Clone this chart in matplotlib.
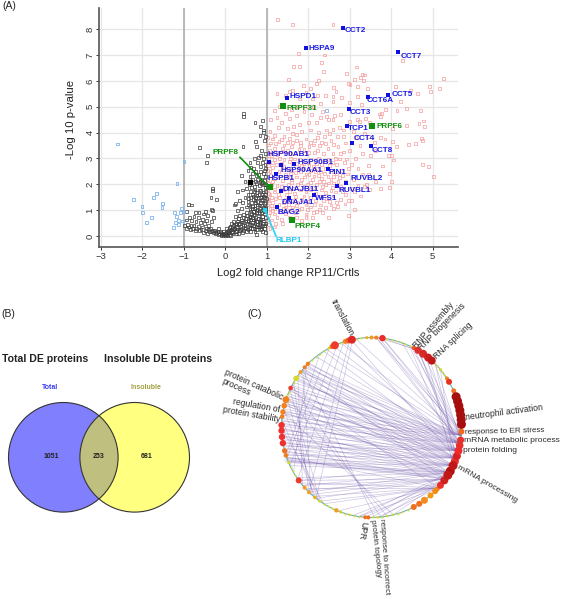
import numpy as np
import matplotlib
matplotlib.use("Agg")
import matplotlib.pyplot as plt
from matplotlib.patches import Circle

plt.rcParams['font.family'] = ['Liberation Sans', 'DejaVu Sans']

W, H = 561, 598

# ---------- panel A data ----------
blue_pts = [(-2.6,3.56),(-0.99,2.87),(-1.16,2.04),(-2.2,1.4),(-2.0,1.13),(-1.98,0.9),(-1.89,0.51),(-1.77,0.71),
            (-1.72,1.48),(-1.66,1.65),(-1.51,1.26),(-1.52,1.1),(-1.25,0.32),(-1.13,0.43),(-1.2,0.53),(-1.12,0.59),
            (-1.02,0.58),(-1.21,0.9),(-1.17,0.77),(-1.08,0.92),(-1.05,1.07),(-1.0,0.95),(2.45,4.87)]

black_pts = [(-0.62,3.43),(-0.43,3.13),(-0.45,2.83),(-0.3,1.85),(-0.3,1.75),(-0.34,1.5),(-0.2,1.42),(0.45,4.75),(0.45,4.62),
 (0.72,4.4),(0.9,4.46),(0.85,4.25),(0.92,4.1),(0.93,4.0),(0.84,3.9),(0.43,3.47),(0.73,3.65),(0.76,3.45),(0.95,3.68),(0.88,3.3),
 (0.98,3.2),(0.92,3.0),(0.7,3.0),(0.6,2.85),(0.79,2.85),(0.62,2.65),(0.55,2.52),(0.85,2.7),(0.94,2.55),(0.73,2.5),(0.4,2.35),
 (0.48,2.12),(0.6,2.3),(0.67,2.18),(0.78,2.2),(0.88,2.2),(0.97,2.3),(0.58,1.98),(0.7,1.9),(0.82,1.95),(0.93,1.98),(0.52,1.85),
 (0.42,1.78),(0.3,1.72),(0.62,1.72),(0.75,1.68),(0.86,1.75),(0.98,1.72),(0.55,1.6),(0.68,1.55),(0.8,1.5),(0.92,1.55),(0.99,1.45),
 (0.48,1.5),(0.35,1.38),(0.25,1.25),(0.23,1.2),(0.42,1.3),(0.55,1.35),(0.63,1.28),(0.72,1.38),(0.85,1.3),(0.95,1.25),(0.78,1.2),
 (0.66,1.15),(0.52,1.12),(0.4,1.05),(0.3,1.0),(0.6,1.02),(0.7,1.05),(0.82,1.08),(0.92,1.02),(0.98,0.95),(0.87,0.92),(0.76,0.9),
 (0.64,0.88),(0.52,0.9),(0.45,0.82),(0.35,0.8),(0.25,0.75),(0.58,0.76),(0.68,0.78),(0.8,0.78),(0.9,0.75),(0.97,0.72),(0.86,0.65),
 (0.74,0.66),(0.62,0.64),(0.5,0.68),(0.4,0.62),(0.3,0.58),(0.2,0.56),(0.15,0.48),(0.25,0.46),(0.35,0.5),(0.45,0.52),(0.55,0.55),
 (0.65,0.52),(0.75,0.56),(0.84,0.52),(0.93,0.58),(0.98,0.5),(0.89,0.42),(0.78,0.44),(0.68,0.4),(0.58,0.43),(0.48,0.42),(0.38,0.38),
 (0.28,0.36),(0.18,0.34),(0.1,0.32),(0.12,0.22),(0.2,0.25),(0.3,0.27),(0.4,0.3),(0.5,0.33),(0.6,0.33),(0.7,0.3),(0.8,0.35),(0.95,0.3),
 (0.85,0.25),(0.55,0.24),(0.45,0.22),(0.35,0.2),(0.25,0.17),(0.16,0.13),(0.08,0.12),(0.03,0.06),(0.06,0.03),(0.1,0.07),(0.0,0.02),
 (-0.02,0.04),(-0.05,0.01),(-0.08,0.05),(-0.1,0.03),(-0.13,0.08),(-0.16,0.06),(-0.2,0.12),(-0.24,0.1),(-0.28,0.14),(-0.33,0.18),
 (-0.38,0.16),(-0.42,0.1),(-0.47,0.2),(-0.52,0.14),(-0.58,0.24),(-0.62,0.2),(-0.68,0.28),(-0.72,0.22),(-0.78,0.3),(-0.83,0.26),
 (-0.88,0.35),(-0.93,0.3),(-0.97,0.4),(-0.9,0.45),(-0.82,0.4),(-0.75,0.42),(-0.65,0.38),(-0.55,0.35),(-0.45,0.3),(-0.35,0.28),
 (-0.25,0.22),(-0.17,0.18),(-0.1,0.14),(-0.05,0.1),(0.0,0.09),(0.04,0.14),(-0.03,0.17),(-0.4,0.42),(-0.5,0.48),(-0.6,0.52),
 (-0.7,0.55),(-0.8,0.6),(-0.92,0.62),(-0.85,0.72),(-0.75,0.75),(-0.65,0.7),(-0.55,0.65),(-0.45,0.6),(-0.33,0.55),(-0.28,0.7),
 (-0.42,0.8),(-0.52,0.85),(-0.63,0.92),(-0.72,0.9),(-0.48,0.95),(-0.3,0.98),(-0.33,1.02),(-0.88,1.22),(-0.8,1.2),(-0.92,0.95),
 (0.14,0.03),(0.19,0.08),(0.28,0.08),(0.22,0.3),(0.33,0.1),(0.42,0.13),(0.52,0.16),(0.62,0.18),(0.72,0.16),(0.08,0.2),(0.15,0.27),
 (0.98,0.15),(0.9,0.18),(0.75,0.06),(0.04,0.3),(-0.15,0.3),(0.97,1.12),(0.88,1.18),(0.74,1.3),(0.57,1.46),(0.9,1.42),(0.83,1.62),
 (0.96,1.88),(0.72,1.78),(0.91,2.08),(0.81,2.38),(0.96,2.75),(0.66,2.42),(0.86,3.1),(0.98,3.85),(0.78,1.04),(0.69,0.95),(0.56,1.2),
 (0.94,0.85),(0.83,0.86),(0.71,0.84),(0.61,0.94),(0.91,0.66),(0.8,0.68),(0.69,0.62),(0.57,0.6),(0.96,0.42),(0.86,0.36),(0.75,0.38),
 (0.63,0.46),(0.53,0.47),(0.43,0.45),(0.32,0.43),(0.92,0.48),(0.82,0.46),(0.72,0.48),(0.98,1.05),(0.88,1.0),(0.75,0.98),(0.65,1.08),
 (0.93,1.12),(0.83,1.2),(0.72,1.18),(0.6,1.16),(0.97,1.3),(0.88,1.36),(0.78,1.32),(0.68,1.4),(0.94,1.48),(0.85,1.5),(0.74,1.48),
 (0.62,1.5),(0.97,1.6),(0.88,1.62),(0.77,1.58),(0.65,1.62),(0.93,1.7),(0.82,1.78),(0.7,1.72),(0.98,1.98),(0.87,2.02),(0.76,2.02),
 (0.64,1.88),(0.95,2.15),(0.84,2.12),(0.73,2.12),(0.93,2.42),(0.85,2.5),(0.75,2.35),(0.68,2.6),(0.97,2.62),(0.9,2.85),(0.8,3.05),
 (0.66,0.72),(0.54,0.78),(0.44,0.72),(0.33,0.68),(0.82,0.58),(0.72,0.6),(0.6,0.7),(0.5,0.58),(0.4,0.54),(0.28,0.48),(0.2,0.42),
 (0.12,0.38),(0.66,0.28),(0.76,0.24),(0.88,0.28),(0.58,0.3),(0.48,0.28),(0.38,0.25),(0.27,0.22),(0.18,0.18),(0.06,0.18),(-0.08,0.1),
 (-0.12,0.16),(-0.22,0.16),(-0.3,0.22),(-0.4,0.24)]

red_pts = [(1.27,8.38),(1.62,8.19),(1.77,7.07),(1.65,6.56),(1.8,6.55),(1.53,6.07),(2.25,6.03),(2.21,5.9),(2.39,7.0),(2.33,6.7),
 (2.37,6.35),(1.88,5.82),(2.6,8.19),(3.17,6.54),(2.92,6.29),(3.31,6.24),(3.35,6.23),(3.27,6.12),(3.33,6.0),(2.97,5.9),(3.01,5.87),
 (3.11,6.05),(5.26,6.1),(4.92,5.78),(4.94,5.6),(5.17,5.71),(4.1,5.79),(4.46,5.62),(4.63,5.5),(4.27,6.78),(3.43,5.72),(3.19,5.78),
 (2.61,5.74),(2.67,5.6),(3.19,5.39),(2.8,5.37),(2.42,5.44),(2.6,5.41),(2.6,5.2),(3.0,5.16),(2.3,5.13),(3.28,5.09),(4.22,5.2),
 (3.86,4.9),(4.14,4.87),(4.36,4.94),(4.7,4.86),(4.78,4.45),(4.67,4.36),(4.8,4.24),(4.37,4.29),(4.04,4.17),(3.72,4.72),(3.77,4.74),
 (3.74,4.61),(3.39,4.55),(3.19,4.51),(3.24,4.43),(3.0,4.43),(2.78,4.7),(2.63,4.65),(2.44,4.61),(2.3,4.58),(2.5,4.5),(2.6,4.52),
 (3.47,4.4),(2.44,4.1),(2.6,4.13),(4.74,3.78),(4.75,3.7),(4.42,3.55),(4.58,3.59),(4.12,3.45),(4.04,3.67),(3.74,3.8),(3.85,3.75),
 (3.93,3.13),(4.06,2.94),(4.0,3.1),(3.8,2.71),(3.46,2.73),(3.96,2.43),(4.0,2.1),(3.96,1.87),(3.75,1.84),(4.75,2.76),(4.9,2.68),
 (5.02,2.29),(3.27,1.55),(3.11,1.03),(2.97,0.8),(2.49,0.72),(2.35,0.9),(3.05,1.37),(2.97,1.37),(2.89,1.24),(2.77,1.4),(3.47,1.8),
 (3.63,2.1),(3.35,1.9),(3.4,2.0),(3.45,2.4),(3.3,2.4),(3.2,2.6),(2.95,2.4),(3.05,2.75),(3.15,3.0),(3.3,3.2),(3.5,3.1),(3.62,3.3),
 (3.25,3.5),(3.0,3.3),(2.9,3.6),(3.15,3.8),(3.45,3.85),(3.6,3.62),(3.35,3.95),(3.1,4.05),(2.85,4.1),(1.25,5.5),(1.55,5.6),(1.62,5.62),
 (1.45,5.45),(1.3,5.0),(1.2,4.85),(1.8,5.3),(1.95,5.55),(2.05,5.7),(2.1,5.3),(1.98,5.0),(2.22,5.45),(2.12,5.0),(1.75,5.0),(1.6,4.9),
 (1.45,4.75),(1.25,4.6),(1.1,4.5),(1.35,4.4),(1.55,4.55),(1.72,4.65),(1.9,4.8),(2.08,4.7),(2.2,4.4),(2.35,4.8),(2.0,4.4),(1.8,4.3),
 (1.65,4.25),(1.5,4.15),(1.28,4.2),(1.08,4.05),(1.2,3.9),(1.42,3.85),(1.62,3.95),(1.85,4.05),(2.05,4.1),(2.25,4.0),(2.4,3.85),(2.7,3.85),
 (2.55,3.7),(2.15,3.7),(1.95,3.75),(1.72,3.7),(1.5,3.62),(1.3,3.65),(1.1,3.6),(1.03,3.8),(1.18,3.4),(1.38,3.4),(1.6,3.45),(1.82,3.5),
 (2.02,3.45),(2.28,3.5),(2.48,3.4),(2.72,3.45),(2.85,3.25),(2.6,3.2),(2.38,3.2),(2.15,3.22),(1.92,3.2),(1.7,3.2),(1.48,3.18),(1.25,3.15),
 (1.06,3.3),(1.05,3.0),(1.2,2.95),(1.42,2.95),(1.58,3.0),(1.8,2.95),(2.05,2.95),(2.25,3.0),(2.5,2.95),(2.75,2.98),(2.88,2.85),(2.68,2.75),
 (2.32,2.75),(2.12,2.7),(1.9,2.62),(1.52,2.6),(1.3,2.5),(1.15,2.65),(1.03,2.55),(1.1,2.35),(1.45,2.4),(1.7,2.45),(1.95,2.4),(2.18,2.48),
 (2.4,2.42),(2.6,2.5),(2.8,2.55),(2.75,2.25),(2.55,2.2),(2.32,2.22),(2.1,2.2),(1.85,2.2),(1.6,2.2),(1.38,2.15),(1.15,2.1),(1.03,2.2),
 (1.08,1.9),(1.25,1.95),(1.52,1.98),(1.75,1.98),(1.98,2.0),(2.2,2.0),(2.42,1.98),(2.62,2.05),(2.82,1.72),(2.55,1.75),(2.32,1.78),(2.05,1.8),
 (1.82,1.78),(1.55,1.72),(1.2,1.7),(1.04,1.65),(1.12,1.5),(1.32,1.5),(1.7,1.52),(1.9,1.55),(2.3,1.55),(2.45,1.45),(2.6,1.55),(2.18,1.38),
 (1.98,1.32),(1.75,1.3),(1.4,1.28),(1.15,1.3),(1.03,1.2),(1.08,1.05),(1.4,1.05),(1.62,1.12),(1.85,1.08),(2.05,1.12),(2.3,1.2),(2.55,1.2),
 (2.7,1.15),(2.2,0.95),(1.95,0.85),(1.7,0.9),(1.45,0.85),(1.2,0.85),(1.05,0.8),(1.12,0.62),(1.35,0.65),(1.85,0.6),(2.1,0.7),(1.04,0.45),
 (1.22,0.48),(1.08,0.3),(1.02,1.42),(1.02,2.85),(1.15,2.85),(1.55,2.88),(1.72,2.82),(2.0,2.85),(2.22,2.62),(2.42,2.62),(2.58,2.85),(2.9,2.1),
 (3.1,2.2),(3.2,1.95),(3.05,1.85),(2.9,1.6),(3.12,1.72),(1.35,2.82),(1.58,2.42),(1.78,2.65),(1.12,3.1),(1.32,3.0),(1.5,3.32),(1.9,3.35),
 (2.12,3.52),(2.32,3.62),(2.52,3.95),(1.72,3.92),(1.55,3.78),(1.35,3.72),(1.15,3.75),(1.25,3.25),(1.68,2.98),(1.88,2.82),(2.06,2.55),(2.25,2.35),
 (1.05,3.52),(1.22,3.58),(1.42,3.52),(1.62,3.62),(1.82,3.62),(2.05,3.62),(2.22,3.82),(1.08,3.18),(1.35,3.25),(1.58,3.2),(1.78,3.35),(2.0,3.22),
 (2.22,3.3),(2.42,3.58),(2.62,3.55),(1.05,2.72),(1.24,2.78),(1.42,2.7),(1.62,2.72),(1.85,2.72),(2.02,2.72),(2.2,2.82),(2.4,2.88),(2.52,2.72),
 (1.08,2.5),(1.22,2.42),(1.4,2.58),(1.6,2.55),(1.82,2.5),(2.02,2.38),(2.3,2.48),(2.48,2.3),(2.68,2.4),(1.05,2.02),(1.2,2.22),(1.32,2.32),
 (1.5,2.3),(1.72,2.28),(1.92,2.28),(2.14,2.32),(2.38,2.12),(2.62,2.3),(2.82,2.35),(1.12,1.98),(1.36,1.9),(1.6,2.08),(1.82,2.05),(2.05,2.08),
 (2.28,2.1),(2.5,2.05),(2.72,2.1),(1.02,1.8),(1.18,1.82),(1.42,1.78),(1.65,1.85),(1.9,1.9),(2.12,1.88),(2.35,1.92),(2.58,1.88),(2.78,1.9),
 (1.08,1.62),(1.28,1.62),(1.48,1.6),(1.68,1.65),(1.95,1.7),(2.18,1.65),(2.42,1.68),(2.65,1.7),(1.05,1.38),(1.22,1.45),(1.45,1.42),(1.6,1.38),
 (1.85,1.42),(2.05,1.48),(2.38,1.38),(2.52,1.35),(2.68,1.3),(1.12,1.18),(1.3,1.22),(1.52,1.22),(1.72,1.18),(1.95,1.2),(2.15,1.22),(2.42,1.1),
 (2.62,1.05),(1.18,1.05),(1.32,0.95),(1.55,0.98),(1.78,1.02),(1.98,1.02),(2.12,0.9),(2.28,1.02),(1.08,0.92),(1.25,0.72),(1.55,0.72),(1.72,0.72),
 (1.95,0.72),(1.15,0.98),(1.45,1.12),(1.02,0.65),(1.38,0.5),(1.18,0.35),(2.85,3.85),(2.75,4.2),(2.92,2.98),(2.98,2.62),(2.78,3.2),(2.65,3.0)]

gene_names = ['HSPA9','CCT2','CCT7','HSPD1','CCT5','CCT6A','CCT3','TCP1','CCT4','CCT8','PIN1','RUVBL2','RUVBL1','HSP90AB1',
              'HSP90B1','HSP90AA1','HSPB1','DNAJB11','WFS1','DNAJA1','BAG2']
gene_x = [1.95,2.83,4.16,1.49,3.93,3.45,2.99,2.93,3.06,3.51,2.47,2.92,2.69,1.06,1.66,1.34,1.23,1.35,2.14,1.54,1.24]
gene_y = [7.28,8.05,7.12,5.35,5.44,5.39,4.92,4.27,3.59,3.47,2.58,2.04,1.92,2.86,2.77,2.73,2.40,1.74,1.60,1.46,1.12]
green_names = ['PRPF31','PRPF6','PRPF8','PRPF4']
green_x = [1.39,3.54,1.07,1.61]
green_y = [5.04,4.26,1.88,0.61]
cyan_name = 'RLBP1'
cyan_x = [0.96]
cyan_y = [1.0]
filled_black_x = [0.6]
filled_black_y = [2.1]
x_ticks = [-3,-2,-1,0,1,2,3,4,5]
y_ticks = [0,1,2,3,4,5,6,7,8]

# ---------- panel B data ----------
venn_counts = [1051, 253, 681]
venn_titles = ['Total DE proteins', 'Insoluble DE proteins']
venn_sets = ['Total', 'Insoluble']

# ---------- panel C data ----------
node_angle = [20,17,14,11,8,5,2,-2.6,-8,-15,-22,-29,-36,-40,-45,-49,-54,-58,-62,48,51,55,59,62,40,30.5,33,24,
              83,87,90,93,102.6,105,107,114,116,118,135,138,142,147,154,162,166,170,173,178.5,182,186,190,195,198,203,
              216,222,226,231,235,247,250,256,266,268,274,280,284, -11.5,-18.5,-25,-32,-43]
node_size = [4.5,4.5,4.5,4.5,4.5,4.5,4.5,3,3.5,4,4,4.5,4,3.5,3,3,3.5,3,3,4,4,4,3.5,2,1.5,3,2,2.5,
             3.2,2,2,1.5,4,3,2.5,4,2.5,1.5,2.2,2,2,2.8,2.3,3.4,2.8,2.6,2.3,3.2,3.2,3.2,3.2,2.6,2.3,1.5,
             3,2,2,1.8,1.5,2.2,1.5,1.2,2,2,1.3,1.2,1.2, 3.8,4,4.5,4.5,2.5]
node_color = ['#a50f0f','#a50f0f','#a80c0c','#a80c0c','#a50f0f','#a50f0f','#a80c0c','#f5691e','#e8302a','#ee2a2a','#e8302a','#b01010','#d02020','#e8302a','#f58a10','#f59a10','#f58a1e','#f0701e','#f0701e',
              '#c01818','#cc1e1e','#d82828','#e03030','#f0501e','#d8d820','#e83020','#f08020','#f0701e',
              '#ee2a2a','#f58020','#f59a20','#e8b020','#e02525','#f0602a','#f58a20','#ee3a2a','#f07020','#d8d820','#f58020','#f08020','#f0a020','#d8d830','#ee3a2a','#f5801e','#f5801e','#f5801e','#f08020','#ee3030','#ee3030','#ee3030','#ee3030','#f07020','#f08020','#d8d820',
              '#ee3a2a','#f59a20','#f5a020','#f0b020','#d8d820','#f0a020','#d8d020','#d8d820','#f0701e','#f0701e','#d8d820','#d8d820','#d8d820','#e8302a','#d82020','#c01818','#c01818','#f58020']
rim_dots = [36,38,43,45,65,68,71,74,77,80,97,99,110,122,125,128,131,145,150,157,159,206,209,212,238,241,244,253,259,262,271,277,287,290,294,298,303,307]

edge_src = {
 -5:[135,138,142,150,155,160,165,170,176,100,110,120,83,60,55],
 -10:[137,140,145,152,158,163,168,172,178,182,115,128,85,70,87],
 -15:[134,141,148,153,161,166,171,174,179,184,188,192,108,122,58,50],
 -20:[136,143,147,156,162,169,177,181,186,190,194,198,103,65,45],
 -25:[139,146,159,164,175,183,187,191,196,200,203,216,52],
 -30:[144,154,170,180,185,189,193,197,202,205,214,220,226,262,270],
 -35:[140,165,195,201,216,220,224,228,232,258,266,276,284],
 -42:[155,199,218,222,230,235,238,248,262,274],
}
edge_other = [(83,-2),(87,-3),(62,-12),(64,-6),(58,-18),(45,-8),(40,-24),(180,238),(175,232),(168,234),(160,230),(150,226),
              (145,220),(155,235),(140,228),(136,210),(108,215),(112,205),(118,200),(125,198),(276,152),(280,160),(272,140),(284,170),(104,226),(102,232),(85,88),(78,84),(86,60),(82,58)]

node_center = (371.5, 427.5)
node_radius = 90.0

# ---------- figure ----------
fig = plt.figure(figsize=(W/100, H/100), dpi=100)
L, R, T, B = 99.3, 458.0, 8.0, 247.3
ax = fig.add_axes([L/W, 1-B/H, (R-L)/W, (B-T)/H])
ax.set_xlim(-3.03, 5.61)
ax.set_ylim(-0.437, 8.82)
ax.set_xticks(x_ticks)
ax.set_yticks(y_ticks)
ax.grid(True, color='#e6e6e6', lw=0.9)
ax.set_axisbelow(True)
for s in ('top','right'):
    ax.spines[s].set_visible(False)
for s in ('left','bottom'):
    ax.spines[s].set_color('#555555')
    ax.spines[s].set_linewidth(1.2)
ax.tick_params(axis='both', labelsize=6.8, colors='#333333', length=2, width=0.7, pad=1.5)
for t in ax.get_yticklabels():
    t.set_rotation(90)
    t.set_va('center')
ax.axvline(-1, color='#b5b5b5', lw=1.3, zorder=1)
ax.axvline(1, color='#b5b5b5', lw=1.3, zorder=1)

def sq(pts, color, z, lw=0.5):
    xs = [p[0] for p in pts]
    ys = [p[1] for p in pts]
    ax.scatter(xs, ys, s=4.2, marker='s', facecolors='none', edgecolors=color, linewidths=lw, zorder=z)

sq(red_pts, '#f59c9c', 2)
sq(black_pts, '#3c3c3c', 3)
sq(blue_pts, '#7db4ee', 3, 0.6)
ax.scatter(filled_black_x, filled_black_y, s=9, marker='s', c='black', zorder=4)
ax.scatter(gene_x, gene_y, s=7, marker='s', c='#1010e0', linewidths=0, zorder=5)
ax.scatter(green_x, green_y, s=16, marker='s', c='#109010', linewidths=0, zorder=5)
ax.scatter(cyan_x, cyan_y, s=9, marker='s', c='#20d8f0', linewidths=0, zorder=5)
ax.set_xlabel('Log2 fold change RP11/Crtls', fontsize=8.0, color='#222222', labelpad=3)
ax.xaxis.set_label_coords((288-L)/(R-L), -(267.5-B)/(B-T))
ax.set_ylabel('-Log 10 p-value', fontsize=8.2, color='#222222')
ax.yaxis.set_label_coords(-(L-76)/(R-L), (B-119.5)/(B-T))

# overlay in pixel coordinates
ov = fig.add_axes([0,0,1,1], zorder=10)
ov.set_xlim(0, W)
ov.set_ylim(H, 0)
ov.axis('off')
ov.patch.set_alpha(0)

lab_px = {'HSPA9':(309,48),'CCT2':(345,31),'CCT7':(401,56),'HSPD1':(290,96),'CCT5':(392,94),'CCT6A':(367,101),'CCT3':(350,112),
          'TCP1':(348,129),'CCT4':(354,139),'CCT8':(372,150),'PIN1':(329,173),'RUVBL2':(351,179),'RUVBL1':(339,191),
          'HSP90AB1':(268,155),'HSP90B1':(298,163),'HSP90AA1':(281,171),'HSPB1':(268,179),'DNAJB11':(283,189.5),'WFS1':(315,199),
          'DNAJA1':(282,203),'BAG2':(278,212)}
for n in gene_names:
    x, y = lab_px[n]
    ov.text(x, y, n, color='#1a1ae6', fontsize=5.9, fontweight='bold', va='center', ha='left')
for n, (x, y) in {'PRPF31':(287,108),'PRPF6':(377,126),'PRPF8':(213,153),'PRPF4':(295,226)}.items():
    ov.text(x, y, n, color='#109010', fontsize=5.9, fontweight='bold', va='center', ha='left')
ov.text(276, 241, cyan_name, color='#20c8f0', fontsize=5.9, fontweight='bold', va='center', ha='left')
ov.plot([240, 269.3], [157.3, 187.3], color='#109010', lw=1.2)
ov.plot([265, 276], [210, 236], color='#20d8f0', lw=1.2)

ov.text(2, 6, '(A)', fontsize=7.5, va='center', color='#222222')
ov.text(1, 314, '(B)', fontsize=7.5, va='center', color='#222222')
ov.text(247, 314, '(C)', fontsize=7.5, va='center', color='#222222')

# Venn
cL, cR, cy, cr = 63.3, 134.7, 457.3, 54.8
ov.add_patch(Circle((cL, cy), cr, fc='#8080ff', ec='none'))
ov.add_patch(Circle((cR, cy), cr, fc='#ffff80', ec='none'))
over = Circle((cR, cy), cr, fc='#bfbf80', ec='none')
ov.add_patch(over)
over.set_clip_path(Circle((cL, cy), cr, transform=ov.transData))
ov.add_patch(Circle((cL, cy), cr, fc='none', ec='#333333', lw=0.8))
ov.add_patch(Circle((cR, cy), cr, fc='none', ec='#333333', lw=0.8))
ov.text(2, 358.5, venn_titles[0], fontsize=7.6, fontweight='bold', va='center', color='#222222')
ov.text(104, 358.5, venn_titles[1], fontsize=7.6, fontweight='bold', va='center', color='#222222')
ov.text(50.5, 387.5, venn_sets[0], fontsize=5, fontweight='bold', ha='center', va='center', color='#3a3af0')
ov.text(145.5, 387.5, venn_sets[1], fontsize=5, fontweight='bold', ha='center', va='center', color='#a0a040')
for px, c in zip((51, 99, 146.5), venn_counts):
    ov.text(px, 457, str(c), fontsize=5, fontweight='bold', ha='center', va='center', color='#222222')

# circular network
def polar(a):
    t = np.deg2rad(a)
    return node_center[0] + node_radius*np.cos(t), node_center[1] - node_radius*np.sin(t)

for s, dests in edge_src.items():
    for d in dests:
        x0, y0 = polar(s); x1, y1 = polar(d)
        ov.plot([x0, x1], [y0, y1], color='#6a4fa8', lw=0.5, alpha=0.32, zorder=2)
for s, d in edge_other:
    x0, y0 = polar(s); x1, y1 = polar(d)
    ov.plot([x0, x1], [y0, y1], color='#6a4fa8', lw=0.5, alpha=0.32, zorder=2)
# pale band
xb0, yb0 = polar(-33); xb1, yb1 = polar(201)
ov.plot([xb0, xb1], [yb0, yb1], color='#6a4fa8', lw=4, alpha=0.14, zorder=2)
ov.add_patch(Circle(node_center, node_radius, fc='none', ec='#6fb0a8', lw=0.8, zorder=3))
rx, ry = polar(np.array(rim_dots, dtype=float))
ov.scatter(rx, ry, s=2.2, c='#d8e040', linewidths=0, zorder=4)
nx, ny = polar(np.array(node_angle, dtype=float))
order = np.argsort(node_size)
ov.scatter(nx[order], ny[order], s=(1.44*np.array(node_size)[order])**2, c=np.array(node_color)[order], linewidths=0, zorder=5)

labels_c = [('translation',333,300,-62,6.2),('RNP assembly',415,347,49,6.2),('RNP biogenesis',420,349,45,6.2),
            ('RNA splicing',435,358,43,6.2),('neutrophil activation',465,418,7.5,6.3),('response to ER stress',465,433,1.5,5.9),
            ('mRNA metabolic process',464,441,0,6.1),('protein folding',463,450,0,6.1),('mRNA processing',457.5,467,-30,6.1),
            ('UPR',364,521,-100,6.2),('response to incorrect',381,519,-86,5.9),('protein topology',372,520,-84,5.9),
            ('protein catabolic',225,372,-24,6.2),('process',222,381,-24,6.2),('regulation of',233,402,-10,6.2),('protein stability',223,410,-10,6.2)]
for s, x, y, r, fs in labels_c:
    ov.text(x, y, s, rotation=r, rotation_mode='anchor', ha='left', va='center', fontsize=fs, color='#2a2a2a')

fig.savefig('out.png', dpi=100)
